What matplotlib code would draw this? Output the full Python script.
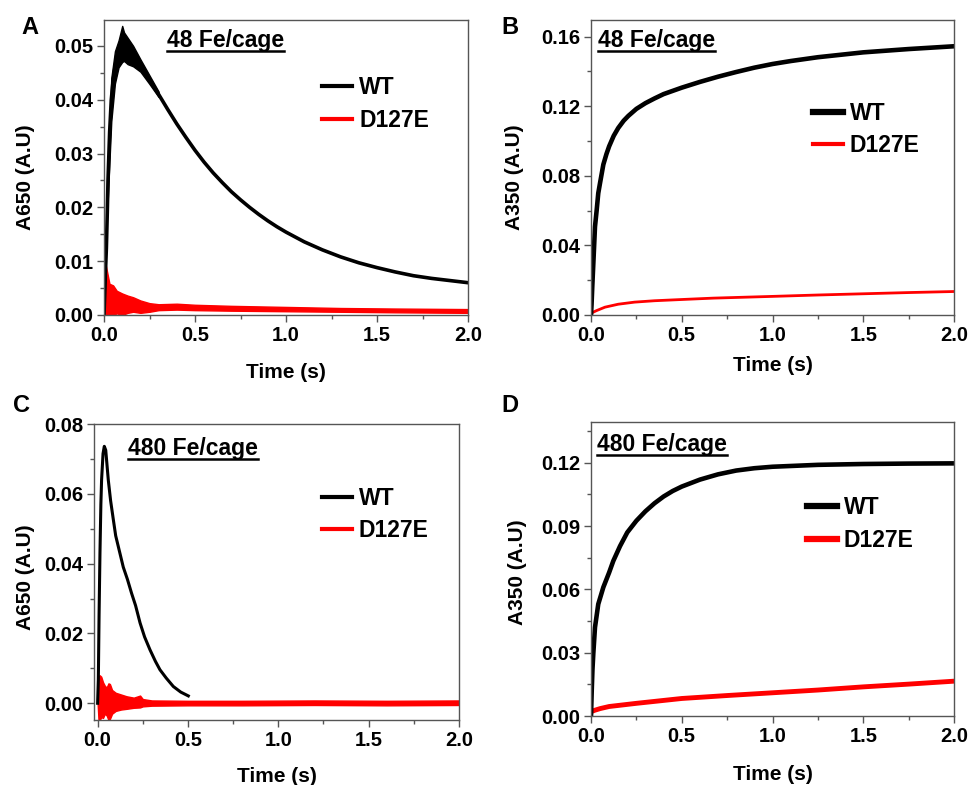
import numpy as np
import matplotlib
matplotlib.use("Agg")
import matplotlib.pyplot as plt
from matplotlib.lines import Line2D

plt.rcParams['font.family'] = ['Liberation Sans', 'DejaVu Sans']
plt.rcParams['font.weight'] = 'bold'

# ---- panel A: A650, 48 Fe/cage ----
a_wt_t = [0, 0.004, 0.008, 0.013, 0.018, 0.022, 0.031, 0.04, 0.05, 0.06, 0.075, 0.09, 0.1, 0.12,
          0.15, 0.2, 0.25, 0.3, 0.35, 0.4, 0.45, 0.5, 0.55, 0.6, 0.65, 0.7, 0.75, 0.8, 0.85, 0.9,
          0.95, 1.0, 1.1, 1.2, 1.3, 1.4, 1.5, 1.6, 1.7, 1.8, 1.9, 2.0]
a_wt_y = [0.0, 0.004, 0.008, 0.0124, 0.019, 0.025, 0.034, 0.040, 0.0435, 0.0460, 0.0480, 0.0492,
          0.0497, 0.0497, 0.0490, 0.0465, 0.0437, 0.0410, 0.0382, 0.0355, 0.0330, 0.0306, 0.0284,
          0.0264, 0.0246, 0.0229, 0.0214, 0.0200, 0.0187, 0.0175, 0.0164, 0.0154, 0.0136, 0.0121,
          0.0108, 0.0097, 0.0088, 0.0080, 0.0073, 0.0068, 0.0064, 0.0060]
# noise envelope of WT near the peak
a_wtn_t = [0.02, 0.04, 0.06, 0.08, 0.1, 0.11, 0.13, 0.16, 0.2, 0.25, 0.3]
a_wtn_hi = [0.027, 0.044, 0.049, 0.051, 0.0537, 0.0525, 0.0515, 0.0500, 0.0475, 0.0445, 0.0415]
a_wtn_lo = [0.021, 0.036, 0.043, 0.046, 0.0470, 0.0472, 0.0466, 0.0462, 0.0452, 0.0429, 0.0405]
a_mut_t = [0.0, 0.004, 0.01, 0.02, 0.03, 0.05, 0.07, 0.1, 0.13, 0.16, 0.2, 0.25, 0.3, 0.4, 0.5,
           0.7, 1.0, 1.3, 1.6, 2.0]
a_mut_hi = [0.0085, 0.0097, 0.0092, 0.0075, 0.0058, 0.0055, 0.0045, 0.0040, 0.0036, 0.0033,
            0.0027, 0.0022, 0.0020, 0.0021, 0.0019, 0.0017, 0.0015, 0.0013, 0.0012, 0.0011]
a_mut_lo = [0.0005, 0.0, 0.0, 0.0, 0.0, 0.0, 0.0003, 0.0, 0.0004, 0.0006, 0.0004, 0.0006, 0.0009,
            0.0010, 0.0009, 0.0008, 0.0007, 0.0006, 0.0005, 0.0004]

# ---- panel B: A350, 48 Fe/cage ----
b_wt_t = [0, 0.003, 0.007, 0.013, 0.022, 0.031, 0.04, 0.05, 0.068, 0.085, 0.1, 0.125, 0.15, 0.18,
          0.206, 0.25, 0.3, 0.35, 0.4, 0.5, 0.6, 0.7, 0.8, 0.9, 1.0, 1.1, 1.25, 1.5, 1.75, 2.0]
b_wt_y = [0.0, 0.006, 0.0163, 0.030, 0.0508, 0.060, 0.070, 0.076, 0.0865, 0.0925, 0.0970, 0.1030,
          0.1075, 0.1117, 0.1145, 0.1185, 0.1218, 0.1245, 0.1270, 0.1307, 0.1340, 0.1370, 0.1397,
          0.1422, 0.1443, 0.1460, 0.1482, 0.1510, 0.1529, 0.1545]
b_mut_t = [0, 0.01, 0.03, 0.077, 0.15, 0.24, 0.35, 0.52, 0.674, 1.0, 1.25, 1.5, 1.75, 2.0]
b_mut_y = [0.001, 0.0015, 0.0025, 0.0045, 0.0062, 0.0074, 0.0082, 0.0090, 0.0097, 0.0107,
           0.0115, 0.0122, 0.0129, 0.0135]

# ---- panel C: A650, 480 Fe/cage ----
c_wt_t = [0, 0.004, 0.008, 0.013, 0.018, 0.022, 0.03, 0.037, 0.045, 0.059, 0.072, 0.087, 0.1,
          0.114, 0.128, 0.142, 0.165, 0.188, 0.21, 0.235, 0.26, 0.29, 0.32, 0.345, 0.38, 0.419,
          0.46, 0.502]
c_wt_y = [0.0, 0.0067, 0.025, 0.043, 0.057, 0.064, 0.0715, 0.0736, 0.0725, 0.064, 0.058, 0.0526,
          0.048, 0.045, 0.042, 0.039, 0.0355, 0.0315, 0.028, 0.023, 0.019, 0.0153, 0.012, 0.0096,
          0.0072, 0.0048, 0.0032, 0.0021]
c_mut_t = [0.0, 0.005, 0.012, 0.02, 0.03, 0.04, 0.05, 0.06, 0.068, 0.08, 0.1, 0.13, 0.16, 0.2,
           0.235, 0.25, 0.3, 0.5, 0.8, 1.2, 1.6, 2.0]
c_mut_hi = [0.0, 0.0078, 0.0080, 0.0076, 0.0060, 0.0050, 0.0045, 0.0057, 0.0055, 0.0038, 0.0030,
            0.0025, 0.0020, 0.0016, 0.0022, 0.0012, 0.0008, 0.0007, 0.0007, 0.0008, 0.0007, 0.0008]
c_mut_lo = [0.0, -0.0048, -0.0048, -0.0040, -0.0042, -0.0030, -0.0035, -0.0048, -0.0045, -0.0030,
            -0.0022, -0.0018, -0.0016, -0.0013, -0.0012, -0.0009, -0.0007, -0.0006, -0.0006,
            -0.0005, -0.0006, -0.0005]

# ---- panel D: A350, 480 Fe/cage ----
d_wt_t = [0, 0.004, 0.008, 0.013, 0.022, 0.04, 0.068, 0.1, 0.123, 0.16, 0.2, 0.25, 0.3, 0.35,
          0.4, 0.45, 0.5, 0.6, 0.7, 0.8, 0.9, 1.0, 1.25, 1.5, 1.75, 2.0]
d_wt_y = [0.0, 0.012, 0.022, 0.0300, 0.042, 0.0530, 0.0610, 0.0680, 0.0735, 0.0805, 0.0870,
          0.0925, 0.0970, 0.1008, 0.1040, 0.1066, 0.1087, 0.1120, 0.1145, 0.1163, 0.1174, 0.1181,
          0.1190, 0.1194, 0.1196, 0.1197]
d_mut_t = [0, 0.02, 0.05, 0.1, 0.25, 0.5, 0.75, 1.0, 1.25, 1.5, 1.75, 2.0]
d_mut_y = [0.002, 0.0027, 0.0035, 0.0045, 0.0060, 0.0083, 0.0097, 0.0110, 0.0123, 0.0138,
           0.0151, 0.0165]

W, H = 971, 785
fig = plt.figure(figsize=(W / 100, H / 100), dpi=100)


def make_axes(left, right, top, bottom):
    return fig.add_axes([left / W, 1 - bottom / H, (right - left) / W, (bottom - top) / H])


def style(ax, xlim, ylim, ymajor, ylabel, ylab_xy, xlab_y):
    ax.set_xlim(*xlim)
    ax.set_ylim(*ylim)
    xt = np.arange(0, 2.01, 0.5)
    ax.set_xticks(xt)
    ax.set_xticks(np.arange(0, 2.01, 0.25), minor=True)
    yt = np.arange(0, ylim[1] + 1e-9, ymajor)
    ax.set_yticks(yt)
    ax.set_yticks(np.arange(0, ylim[1] + 1e-9, ymajor / 2), minor=True)
    ax.set_xticklabels(['%.1f' % v for v in xt])
    ax.set_yticklabels(['%.2f' % v for v in yt])
    for s in ax.spines.values():
        s.set_color('#555555')
        s.set_linewidth(1.0)
    ax.tick_params(which='major', direction='out', length=5, width=1, color='#555555',
                   labelsize=14.5, pad=3)
    ax.tick_params(which='minor', direction='out', length=3, width=1, color='#555555')
    for lab in ax.get_xticklabels() + ax.get_yticklabels():
        lab.set_fontweight('bold')
    ax.set_xlabel('Time (s)', fontsize=15, fontweight='bold')
    ax.set_ylabel(ylabel, fontsize=15, fontweight='bold')
    ax.yaxis.set_label_coords(*ylab_xy)
    ax.xaxis.set_label_coords(0.5, xlab_y)


def legend(ax, x, ymid, lw_wt, lw_mut):
    handles = [Line2D([], [], color='black', lw=lw_wt), Line2D([], [], color='red', lw=lw_mut)]
    ax.legend(handles, ['WT', 'D127E'], loc='center left', bbox_to_anchor=(x, ymid),
              frameon=False, prop={'weight': 'bold', 'size': 16.5},
              handlelength=1.3, handletextpad=0.3, labelspacing=0.4, borderpad=0,
              borderaxespad=0)


def title(ax, x, y, s):
    return ax.text(x, y, s, transform=ax.transAxes, fontsize=16.5, fontweight='bold',
                   va='center', ha='left')


titles = []

# A
axA = make_axes(104, 468, 20, 315)
axA.fill_between(a_mut_t, a_mut_lo, a_mut_hi, color='red', lw=1)
axA.fill_between(a_wtn_t, a_wtn_lo, a_wtn_hi, color='black', lw=1)
axA.plot(a_wt_t, a_wt_y, color='black', lw=2.6)
style(axA, (0, 2.0), (0, 0.0548), 0.01, 'A650 (A.U)', (-0.189, 0.466), -0.162)
legend(axA, 0.6, 0.715, 3, 3)
titles.append(title(axA, 0.173, 0.929, '48 Fe/cage'))

# B
axB = make_axes(591, 954, 20, 315)
axB.plot(b_mut_t, b_mut_y, color='red', lw=2)
axB.plot(b_wt_t, b_wt_y, color='black', lw=3.3)
style(axB, (0, 2.0), (0, 0.1696), 0.04, 'A350 (A.U)', (-0.185, 0.466), -0.14)
legend(axB, 0.612, 0.629, 4.5, 3)
titles.append(title(axB, 0.019, 0.932, '48 Fe/cage'))

# C
axC = make_axes(94, 459, 424, 720)
axC.fill_between(c_mut_t, c_mut_lo, c_mut_hi, color='red', lw=1)
axC.plot(c_wt_t, c_wt_y, color='black', lw=2.2)
style(axC, (-0.02, 2.0), (-0.0048, 0.08), 0.02, 'A650 (A.U)', (-0.161, 0.481), -0.159)
axC.set_yticks(np.arange(0, 0.0801, 0.01), minor=True)
legend(axC, 0.625, 0.694, 3, 3)
titles.append(title(axC, 0.093, 0.916, '480 Fe/cage'))

# D
axD = make_axes(591, 954, 422, 716)
axD.plot(d_mut_t, d_mut_y, color='red', lw=3.5)
axD.plot(d_wt_t, d_wt_y, color='black', lw=3.3)
style(axD, (0, 2.0), (0, 0.1393), 0.03, 'A350 (A.U)', (-0.176, 0.49), -0.167)
axD.set_yticks(np.arange(0, 0.14, 0.015), minor=True)
legend(axD, 0.595, 0.653, 4.5, 4.5)
titles.append(title(axD, 0.017, 0.922, '480 Fe/cage'))

# panel letters
for lab, x, y in [('A', 30, 27), ('B', 510, 27), ('C', 22, 405), ('D', 510, 405)]:
    fig.text(x / W, 1 - y / H, lab, fontsize=17, fontweight='bold', ha='center', va='center')

# underline the Fe/cage titles
fig.canvas.draw()
r = fig.canvas.get_renderer()
for t in titles:
    bb = t.get_window_extent(renderer=r)
    yl = bb.y0 + 1
    fig.add_artist(Line2D([bb.x0 / W, bb.x1 / W], [yl / H, yl / H], color='black', lw=1.8,
                          transform=fig.transFigure))

fig.savefig('out.png', dpi=100)
